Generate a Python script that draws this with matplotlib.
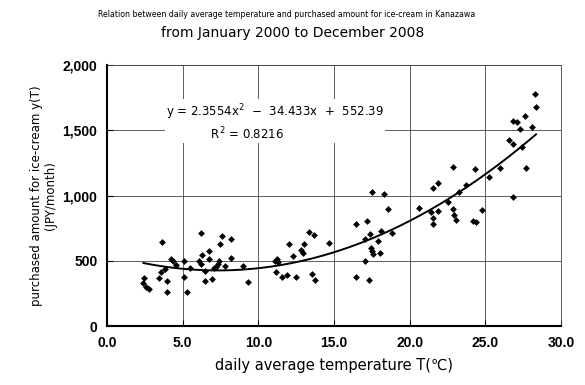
"""
    Scatter of ice-cream spending vs daily average temperature (Kanazawa)
    with a quadratic trend line.
"""
import numpy as np
import matplotlib
matplotlib.use("Agg")
from matplotlib import pyplot as plt

# monthly points: temperature (C), spending (JPY/month)
temp = [2.45, 2.40, 2.55, 2.78, 3.40, 3.55, 3.66, 3.83, 3.99, 3.99,
        4.20, 4.35, 4.55, 5.10, 5.47, 5.10, 5.29,
        6.10, 6.20, 6.19, 6.26, 6.72, 6.76, 6.50, 6.50, 6.94, 7.10,
        7.20, 7.32, 7.42, 7.47, 7.60, 7.80, 8.20, 8.20, 8.97, 9.30,
        11.10, 11.17, 11.20, 11.30, 11.55, 11.88, 12.00, 12.27, 12.47, 12.80,
        12.93, 13.00, 13.37, 13.70, 13.57, 13.77, 14.65,
        16.42, 16.48, 17.05, 17.05, 17.18, 17.30, 17.38, 17.45, 17.50, 17.55,
        17.51, 17.93, 18.07, 18.10, 18.29, 18.59, 18.80,
        20.62, 21.39, 21.52, 21.52, 21.57, 21.90, 21.90, 22.52, 22.85, 22.89,
        22.91, 23.07, 23.25, 23.73, 24.21, 24.37, 24.32, 24.80,
        25.27, 25.97, 26.85, 27.69, 26.57, 26.81, 27.43, 26.85, 27.12, 27.30,
        27.63, 28.11, 28.29, 28.35]
spend = [365, 330, 303, 284, 370, 416, 641, 434, 347, 261,
         515, 495, 465, 498, 447, 373, 261,
         500, 478, 715, 542, 573, 513, 424, 347, 362, 442,
         454, 477, 500, 626, 691, 462, 664, 519, 462, 335,
         500, 411, 513, 493, 373, 391, 628, 539, 373, 582,
         557, 628, 723, 697, 398, 352, 636,
         783, 375, 500, 670, 805, 355, 705, 598, 575, 550,
         1029, 650, 562, 728, 1014, 894, 713,
         903, 876, 825, 782, 1058, 1100, 881, 953, 1221, 894,
         851, 812, 1029, 1078, 805, 795, 1205, 889,
         1142, 1208, 991, 1213, 1425, 1395, 1369, 1571, 1561, 1510,
         1607, 1528, 1776, 1681]

# trend line coefficients as printed on the chart
coef = [2.3554, -34.433, 552.39]
r2 = 0.8216

xticks = [0, 5, 10, 15, 20, 25, 30]
yticks = [0, 500, 1000, 1500, 2000]

plt.rcParams['font.family'] = ['DejaVu Sans', 'Noto Sans CJK JP']

fig = plt.figure(figsize=(5.85, 3.85), dpi=100)
ax = fig.add_axes([0.183, 0.153, 0.776, 0.678])

ax.set_xlim(0, 30)
ax.set_ylim(0, 2000)
ax.set_xticks(xticks)
ax.set_yticks(yticks)
ax.set_xticklabels(["%.1f" % t for t in xticks], fontweight='bold', fontsize=10,
                   family='Liberation Sans')
ax.set_yticklabels(["{:,}".format(t) for t in yticks], fontweight='bold', fontsize=10,
                   family='Liberation Sans')
ax.tick_params(direction='in', length=4, width=0.8, color='black', pad=7)

''' grid lines '''
ax.grid(True, color='#444444', linewidth=0.6)
ax.set_axisbelow(True)
for side in ['left', 'bottom']:
    ax.spines[side].set_linewidth(1.5)
for side in ['top', 'right']:
    ax.spines[side].set_linewidth(0.6)
    ax.spines[side].set_color('#444444')

ax.scatter(temp, spend, marker='D', s=12, color='black', zorder=3, linewidths=0)

xs = np.linspace(min(temp), max(temp), 200)
ax.plot(xs, np.polyval(coef, xs), color='black', linewidth=1.4, zorder=4)

''' equation label: one white box holding both lines '''
eq = "y = 2.3554x$^2$  \u2212  34.433x  +  552.39"
rr = " " * 12 + "R$^2$ = %.4f" % r2
ax.text(11.1, 1560, eq + "\n" + rr, fontsize=8.5, ha='center', va='center',
        multialignment='left', linespacing=1.25,
        bbox=dict(facecolor='white', edgecolor='none', pad=0.5), zorder=5)

ax.set_xlabel("daily average temperature T(\u2103)", fontsize=10.5, labelpad=6)
ax.set_ylabel("purchased amount for ice-cream y(T)\n(JPY/month)", fontsize=8.5,
              linespacing=1.1, labelpad=4)

fig.text(0.49, 0.962, "Relation between daily average temperature and purchased "
         "amount for ice-cream in Kanazawa", fontsize=5.7, ha='center', va='center')
fig.text(0.5, 0.915, "from January 2000 to December 2008", fontsize=10,
         ha='center', va='center')

fig.savefig("out.png", dpi=100)
